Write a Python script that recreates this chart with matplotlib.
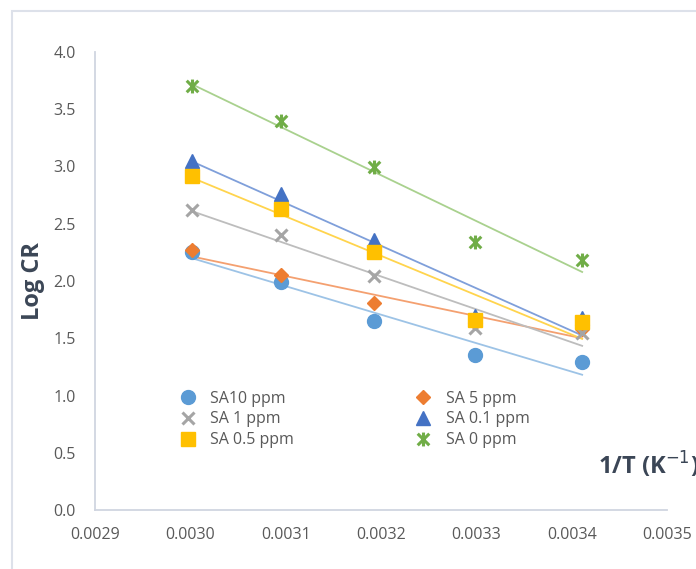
import numpy as np
import matplotlib
matplotlib.use("Agg")
import matplotlib.pyplot as plt
from matplotlib.path import Path
from matplotlib.patches import Rectangle

# Data
inv_T = [0.003002, 0.003095, 0.003193, 0.003299, 0.003411]
series_names = ["SA10 ppm", "SA 5 ppm", "SA 1 ppm", "SA 0.1 ppm", "SA 0.5 ppm", "SA 0 ppm"]
sa10 = [2.25, 1.99, 1.65, 1.35, 1.29]
sa5 = [2.27, 2.05, 1.81, 1.63, 1.58]
sa1 = [2.62, 2.40, 2.04, 1.59, 1.55]
sa01 = [3.05, 2.76, 2.36, 1.69, 1.68]
sa05 = [2.92, 2.63, 2.25, 1.66, 1.64]
sa0 = [3.70, 3.40, 3.00, 2.34, 2.18]
x_ticks = [0.0029, 0.0030, 0.0031, 0.0032, 0.0033, 0.0034, 0.0035]
y_ticks = [0.0, 0.5, 1.0, 1.5, 2.0, 2.5, 3.0, 3.5, 4.0]

star = Path([(-1, -1), (1, 1), (-1, 1), (1, -1), (0, -1.2), (0, 1.2)],
            [Path.MOVETO, Path.LINETO, Path.MOVETO, Path.LINETO, Path.MOVETO, Path.LINETO])

styles = {
    "SA10 ppm": dict(color="#5B9BD5", marker="o", ms=10, line="#9DC3E6"),
    "SA 5 ppm": dict(color="#ED7D31", marker="D", ms=7.5, line="#F4A070"),
    "SA 1 ppm": dict(color="#A5A5A5", marker="x", ms=9, line="#BDBDBD"),
    "SA 0.1 ppm": dict(color="#4472C4", marker="^", ms=10, line="#7F9FDA"),
    "SA 0.5 ppm": dict(color="#FFC000", marker="s", ms=9.5, line="#FFD44D"),
    "SA 0 ppm": dict(color="#70AD47", marker=star, ms=10, line="#A9D18E"),
}
data = {"SA10 ppm": sa10, "SA 5 ppm": sa5, "SA 1 ppm": sa1,
        "SA 0.1 ppm": sa01, "SA 0.5 ppm": sa05, "SA 0 ppm": sa0}

plt.rcParams['font.family'] = ['Open Sans', 'DejaVu Sans']

fig = plt.figure(figsize=(6.96, 5.69), dpi=100)
fig.patches.append(Rectangle((12/696, -0.1), 1.2, 1 - 11/569 + 0.1, transform=fig.transFigure,
                             fill=False, edgecolor="#DDE1EA", linewidth=1.5, zorder=0))
ax = fig.add_axes([95/696, 1 - 510/569, 572/696, 458/569])

handles = {}
x = np.array(inv_T)
for name in series_names:
    st = styles[name]
    y = np.array(data[name])
    k, b = np.polyfit(x, y, 1)
    ax.plot([x[0], x[-1]], [k * x[0] + b, k * x[-1] + b], color=st["line"], lw=1.3, zorder=2)
    mew = 2.2 if name in ("SA 1 ppm", "SA 0 ppm") else 1
    h, = ax.plot(x, y, linestyle="none", marker=st["marker"], markersize=st["ms"],
                 color=st["color"], markeredgewidth=mew, zorder=3)
    handles[name] = h

leg_order = ["SA10 ppm", "SA 1 ppm", "SA 0.5 ppm", "SA 5 ppm", "SA 0.1 ppm", "SA 0 ppm"]
ax.legend([handles[n] for n in leg_order], leg_order, ncol=2, frameon=False,
          loc="upper left", bbox_to_anchor=(0.12, 0.292), fontsize=11.5,
          labelcolor="#595959", columnspacing=7.5, handletextpad=0.8,
          labelspacing=0.3, handlelength=1.2)

ax.set_xlim(0.0029, 0.0035)
ax.set_ylim(0, 4.0)
ax.set_xticks(x_ticks)
ax.set_xticklabels([f"{t:.4f}" for t in x_ticks])
ax.set_yticks(y_ticks)
ax.set_yticklabels([f"{t:.1f}" for t in y_ticks])
ax.tick_params(length=0, labelsize=11.5, labelcolor="#595959")
ax.tick_params(axis="x", pad=12)
ax.tick_params(axis="y", pad=14)
for s in ("top", "right"):
    ax.spines[s].set_visible(False)
for s in ("left", "bottom"):
    ax.spines[s].set_color("#D0D5E0")
    ax.spines[s].set_linewidth(1.3)

ax.set_ylabel("Log CR", fontsize=17, fontweight="bold", color="#3B4656", labelpad=6)
fig.text(598/696, 1 - 466/569, "1/T (K$^{-1}$)", fontsize=17, fontweight="bold",
         color="#3B4656", va="center", ha="left")

fig.savefig("out.png", dpi=100)
